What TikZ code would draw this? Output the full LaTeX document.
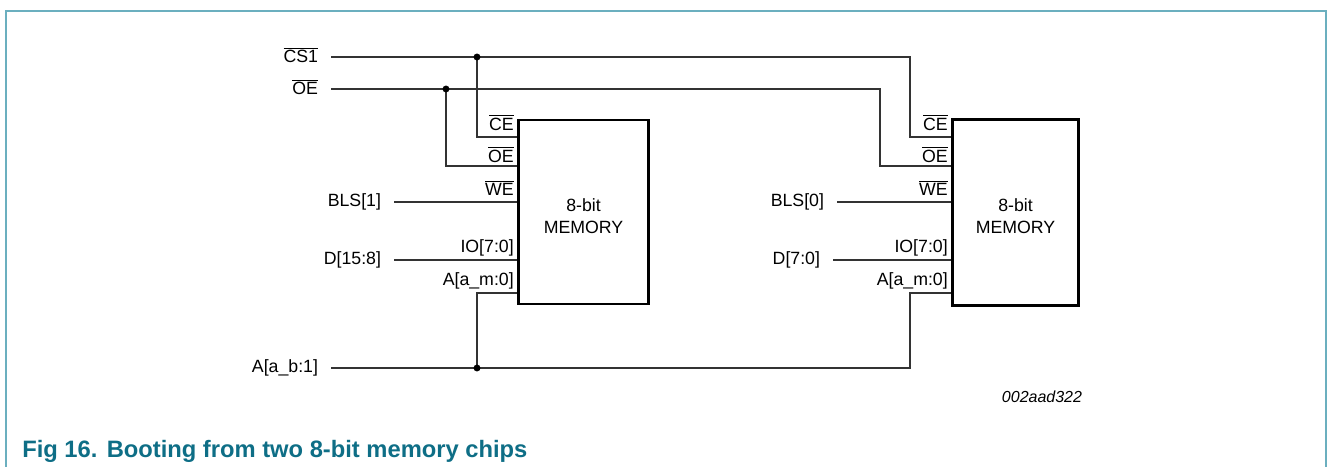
\documentclass[tikz,border=0pt]{standalone}
\usepackage{fontspec}
\setmainfont{Liberation Sans}
\definecolor{frame}{HTML}{6BAFBF}
\definecolor{captc}{HTML}{0E6E86}
\begin{document}
\begin{tikzpicture}[x=0.75pt,y=-0.75pt,
  wire/.style={line width=1.1pt,draw=black!80},
  membox/.style={draw=black,line width=2.2pt,inner sep=0pt,minimum width=98pt,minimum height=138pt,align=center,font=\fontsize{13.3}{16}\selectfont},
  sig/.style={inner sep=0pt,outer sep=9.75pt,anchor=east,font=\fontsize{13.3}{16}\selectfont},
  pin/.style={inner sep=0pt,anchor=base east,font=\fontsize{13.3}{16}\selectfont},
  dot/.style={circle,fill=black,inner sep=0pt,minimum size=5.2pt}]
\useasboundingbox (0,0) rectangle (1327,467);
% frame
\draw[line width=1.5pt,draw=frame] (5.5,467) -- (5.5,11.5) -- (1325.5,11.5) -- (1325.5,467);
% memory boxes
\node[membox] (m1) at (583.5,212) {};
\node[membox,minimum width=95pt,minimum height=139pt] (m2) at (1015.5,212.5) {};
\node[font=\fontsize{13.3}{16}\selectfont,align=center] (t1) at (583.5,216) {8-bit\\MEMORY};
\node[font=\fontsize{13.3}{16}\selectfont,align=center] (t2) at (1015.5,216) {8-bit\\MEMORY};
% pin points
\coordinate (m1ce) at (m1.west |- 0,137);
\coordinate (m1oe) at (m1.west |- 0,166);
\coordinate (m1we) at (m1.west |- 0,202);
\coordinate (m1io) at (m1.west |- 0,260);
\coordinate (m1a)  at (m1.west |- 0,293);
\coordinate (m2ce) at (m2.west |- 0,137);
\coordinate (m2oe) at (m2.west |- 0,166);
\coordinate (m2we) at (m2.west |- 0,202);
\coordinate (m2io) at (m2.west |- 0,260);
\coordinate (m2a)  at (m2.west |- 0,293);
% pin labels
\node[pin] (p1ce) at (514,130) {$\overline{\mbox{CE}}$};
\node[pin] (p1oe) at (514,162) {$\overline{\mbox{OE}}$};
\node[pin] (p1we) at (514,195) {$\overline{\mbox{WE}}$};
\node[pin] (p1io) at (514,252) {IO[7:0]};
\node[pin] (p1a)  at (514,285) {A[a\_m:0]};
\node[pin] (p2ce) at (948,130) {$\overline{\mbox{CE}}$};
\node[pin] (p2oe) at (948,162) {$\overline{\mbox{OE}}$};
\node[pin] (p2we) at (948,195) {$\overline{\mbox{WE}}$};
\node[pin] (p2io) at (948,252) {IO[7:0]};
\node[pin] (p2a)  at (948,285) {A[a\_m:0]};
% signal labels
\node[sig] (cs)   at (331,55) {$\overline{\mbox{CS1}}$};
\node[sig] (oe)   at (331,87) {$\overline{\mbox{OE}}$};
\node[sig] (bls1) at (394,202) {BLS[1]};
\node[sig] (d15)  at (394,260) {D[15:8]};
\node[sig] (ab)   at (331,368) {A[a\_b:1]};
\node[sig] (bls0) at (837,202) {BLS[0]};
\node[sig] (d7)   at (833,260) {D[7:0]};
% junctions and bends
\coordinate (jcs) at (477,57);
\coordinate (joe) at (446,89);
\coordinate (jab) at (477,368);
\coordinate (kcs) at (910,57);
\coordinate (koe) at (880,89);
\coordinate (kab) at (910,368);
% wires
\draw[wire] (cs.east |- jcs) -- (kcs) |- (m2ce);
\draw[wire] (jcs) |- (m1ce);
\draw[wire] (oe.east |- joe) -- (koe) |- (m2oe);
\draw[wire] (joe) |- (m1oe);
\draw[wire] (bls1.east) -- (m1we);
\draw[wire] (d15.east) -- (m1io);
\draw[wire] (bls0.east) -- (m2we);
\draw[wire] (d7.east) -- (m2io);
\draw[wire] (ab.east) -- (kab) |- (m2a);
\draw[wire] (jab) |- (m1a);
\node[dot] (dcs) at (jcs) {};
\node[dot] (doe) at (joe) {};
\node[dot] (dab) at (jab) {};
% id and caption
\node[font=\fontsize{12}{14}\selectfont\itshape] (id) at (1042,397) {002aad322};
\node[anchor=base west,inner sep=0pt,font=\fontsize{17.8}{20}\selectfont\bfseries,text=captc] (cap) at (22,457) {Fig 16.\hspace{7pt}Booting from two 8-bit memory chips};
\end{tikzpicture}
\end{document}
